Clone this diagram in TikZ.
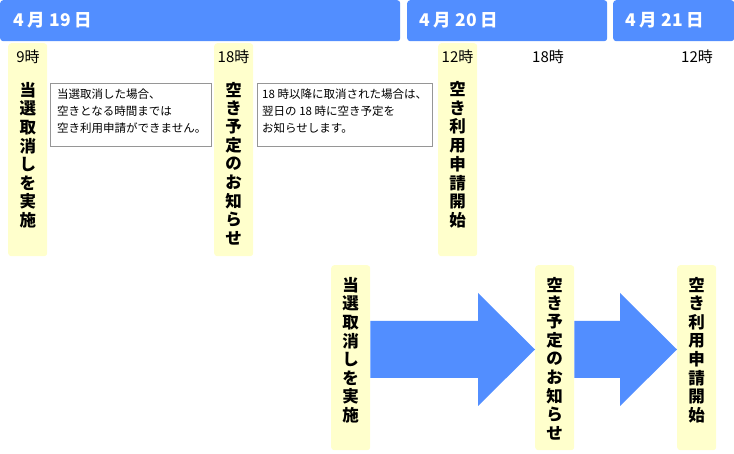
\documentclass[tikz,border=0pt]{standalone}
\usepackage{fontspec}
\setmainfont{Noto Sans CJK JP}
\usetikzlibrary{calc}
\definecolor{hblue}{RGB}{82,142,255}
\definecolor{pale}{RGB}{255,255,204}
\definecolor{boxgray}{RGB}{150,150,150}
\begin{document}
\begin{tikzpicture}[x=1pt,y=-1pt,
  hdr/.style={fill=hblue, rounded corners=3pt, draw=none, anchor=north west, inner sep=0pt},
  hdrtext/.style={text=white, font=\fontsize{17.5}{18}\selectfont\bfseries, anchor=west, inner sep=0pt},
  col/.style={fill=pale, draw=none, rounded corners=3pt, anchor=north west, inner sep=0pt, minimum width=39pt},
  vch/.style={inner sep=0pt, font=\fontsize{16.5}{17}\selectfont\bfseries},
  timelbl/.style={font=\fontsize{15}{15}\selectfont, inner sep=0pt},
  notebox/.style={draw=boxgray, line width=0.8pt, fill=white, anchor=north west, inner sep=0pt},
  notetext/.style={align=left, anchor=north west, inner sep=0pt, font=\fontsize{11.5}{17}\selectfont}
]
\useasboundingbox (0,0) rectangle (734,454);
% header bars
\node[hdr, minimum width=400pt, minimum height=41pt] (h1) at (0,0) {};
\node[hdr, minimum width=200pt, minimum height=41pt] (h2) at (407,0) {};
\node[hdr, minimum width=121pt, minimum height=41pt] (h3) at (613,0) {};
\node[hdrtext] (h1t) at (13,20.5) {4 月 19 日};
\node[hdrtext] (h2t) at (419,20.5) {4 月 20 日};
\node[hdrtext] (h3t) at (625,20.5) {4 月 21 日};
% top columns
\node[col, minimum height=213pt] (c1) at (8,43) {};
\node[col, minimum height=213pt] (c2) at (214,43) {};
\node[col, minimum height=213pt] (c3) at (438,43) {};
\node[timelbl] (t1) at (28,57) {9時};
\node[timelbl] (t2) at (233.5,57) {18時};
\node[timelbl] (t3) at (457.5,57) {12時};
\node[timelbl] (t4) at (548,57) {18時};
\node[timelbl] (t5) at (697,57) {12時};
\foreach \ch [count=\i] in {当,選,取,消,し,を,実,施}
  \node[vch] (v1-\i) at (28,{90+(\i-1)*18.6}) {\ch};
\foreach \ch [count=\i] in {空,き,予,定,の,お,知,ら,せ}
  \node[vch] (v2-\i) at (233.5,{90+(\i-1)*18.5}) {\ch};
\foreach \ch [count=\i] in {空,き,利,用,申,請,開,始}
  \node[vch] (v3-\i) at (457.5,{89+(\i-1)*18.8}) {\ch};
% note boxes
\node[notebox, minimum width=161pt, minimum height=63pt] (n1) at (50,83) {};
\node[notetext] (n1t) at (57,89) {当選取消した場合、\\空きとなる時間までは\\空き利用申請ができません。};
\node[notebox, minimum width=175pt, minimum height=63pt] (n2) at (257,83) {};
\node[notetext] (n2t) at (262,89) {18 時以降に取消された場合は、\\翌日の 18 時に空き予定を\\お知らせします。};
% lower columns
\node[col, minimum height=185pt] (ca) at (331,265) {};
\node[col, minimum height=185pt] (cb) at (535,265) {};
\node[col, minimum height=185pt] (cc) at (677,265) {};
\foreach \ch [count=\i] in {当,選,取,消,し,を,実,施}
  \node[vch] (va-\i) at (350.5,{285+(\i-1)*18.6}) {\ch};
\foreach \ch [count=\i] in {空,き,予,定,の,お,知,ら,せ}
  \node[vch] (vb-\i) at (554.5,{285+(\i-1)*18.5}) {\ch};
\foreach \ch [count=\i] in {空,き,利,用,申,請,開,始}
  \node[vch] (vc-\i) at (696.5,{285+(\i-1)*18.6}) {\ch};
% block arrows
\fill[hblue] (ca.east |- 0,321) -- (478,321) -- (478,293) -- (cb.west |- 0,349.5)
  -- (478,406) -- (478,378) -- (ca.east |- 0,378) -- cycle;
\fill[hblue] (cb.east |- 0,321) -- (620,321) -- (620,293) -- (cc.west |- 0,349.5)
  -- (620,406) -- (620,378) -- (cb.east |- 0,378) -- cycle;
\end{tikzpicture}
\end{document}
